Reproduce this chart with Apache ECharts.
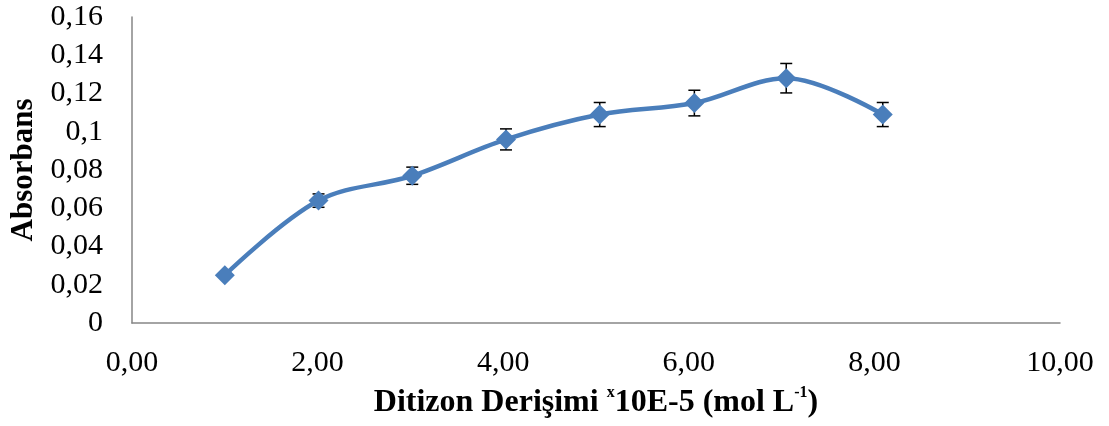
<!DOCTYPE html>
<html>
<head>
<meta charset="utf-8">
<script src="https://cdn.jsdelivr.net/npm/echarts@6/dist/echarts.min.js"></script>
<style>
html,body{margin:0;padding:0;background:#fff;}
#chart{width:1109px;height:426px;}
</style>
</head>
<body>
<div id="chart"></div>
<script>
var xValues = [1.00, 2.01, 3.02, 4.03, 5.04, 6.06, 7.05, 8.09];
var absorbans = [0.025, 0.064, 0.077, 0.096, 0.109, 0.115, 0.128, 0.109];
var errors = [0.001, 0.0035, 0.0045, 0.0055, 0.0063, 0.0067, 0.0077, 0.0063];
var yTicks = [0, 0.02, 0.04, 0.06, 0.08, 0.1, 0.12, 0.14, 0.16];
var xTicks = [0, 2, 4, 6, 8, 10];

var lineData = xValues.map(function (x, i) { return [x, absorbans[i]]; });
var errData = xValues.map(function (x, i) { return [x, absorbans[i] - errors[i], absorbans[i] + errors[i]]; });

var chart = echarts.init(document.getElementById('chart'));
var font = '"Liberation Serif", "Times New Roman", serif';
chart.setOption({
  animation: false,
  grid: { left: 132, right: 49, top: 17, bottom: 103, containLabel: false },
  xAxis: {
    type: 'value', min: 0, max: 10, interval: 2,
    axisLine: { lineStyle: { color: '#868686', width: 1.5 } },
    axisTick: { show: false },
    splitLine: { show: false },
    axisLabel: {
      color: '#000', fontFamily: font, fontSize: 30, margin: 25,
      formatter: function (v) { return v.toFixed(2).replace('.', ','); }
    },
    name: '{b|Ditizon Derişimi }{s|x}{b|10E-5 (mol L}{s|-1}{b|)}',
    nameLocation: 'middle', nameGap: 62,
    nameTextStyle: {
      rich: {
        b: { fontFamily: font, fontWeight: 'bold', fontSize: 32, color: '#000', verticalAlign: 'bottom', lineHeight: 34 },
        s: { fontFamily: font, fontWeight: 'bold', fontSize: 16, color: '#000', verticalAlign: 'top', lineHeight: 34, padding: [0, 0, 8, 0] }
      }
    }
  },
  yAxis: {
    type: 'value', min: 0, max: 0.16, interval: 0.02,
    axisLine: { show: true, lineStyle: { color: '#868686', width: 1.5 } },
    axisTick: { show: false },
    splitLine: { show: false },
    axisLabel: {
      color: '#000', fontFamily: font, fontSize: 30, margin: 29,
      formatter: function (v) {
        if (v === 0) return '0';
        return String(Math.round(v * 100) / 100).replace('.', ',');
      }
    },
    name: 'Absorbans',
    nameLocation: 'middle', nameGap: 93, nameRotate: 90,
    nameTextStyle: { fontFamily: font, fontWeight: 'bold', fontSize: 31, color: '#000' }
  },
  series: [
    {
      type: 'custom',
      z: 1,
      data: errData,
      renderItem: function (params, api) {
        var x = api.value(0);
        var lo = api.coord([x, api.value(1)]);
        var hi = api.coord([x, api.value(2)]);
        var hw = 6;
        var st = { stroke: '#000', lineWidth: 1.5 };
        return {
          type: 'group',
          children: [
            { type: 'line', shape: { x1: lo[0], y1: lo[1], x2: hi[0], y2: hi[1] }, style: st },
            { type: 'line', shape: { x1: lo[0] - hw, y1: lo[1], x2: lo[0] + hw, y2: lo[1] }, style: st },
            { type: 'line', shape: { x1: hi[0] - hw, y1: hi[1], x2: hi[0] + hw, y2: hi[1] }, style: st }
          ]
        };
      }
    },
    {
      type: 'line',
      z: 3,
      data: lineData,
      smooth: 0.35,
      symbol: 'diamond',
      symbolSize: 20,
      lineStyle: { color: '#4A7EBB', width: 4.5 },
      itemStyle: { color: '#4A7EBB' }
    }
  ]
});
</script>
</body>
</html>
